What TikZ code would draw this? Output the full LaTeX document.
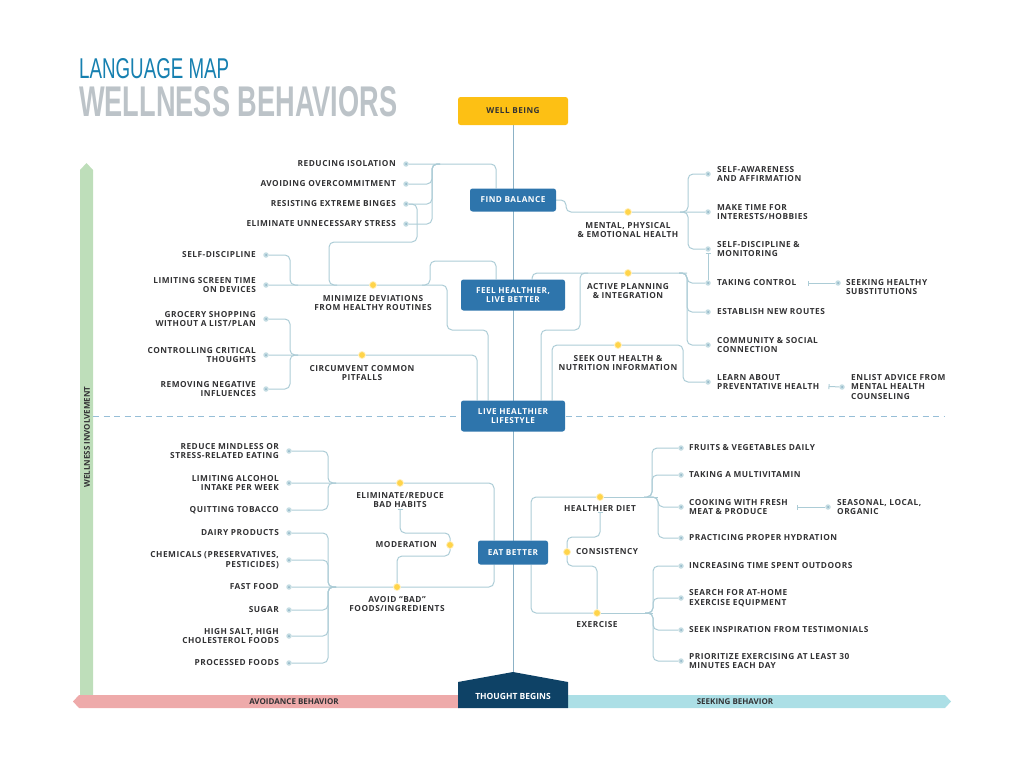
\documentclass[tikz,border=0pt]{standalone}
\usepackage{fontspec}
\setmainfont{Open Sans}
\newfontfamily\capfont{Open Sans}[LetterSpace=6]
\newfontfamily\bandfont{Open Sans}
\newfontfamily\headfont{Liberation Sans}
\usepackage{graphicx}
\usepackage{xcolor}
\usetikzlibrary{
  arrows.meta,
  positioning,
  backgrounds
}
\definecolor{hubblue}{RGB}{46, 117, 172}
\definecolor{gold}{RGB}{253, 192, 20}
\definecolor{navy}{RGB}{14, 66, 102}
\definecolor{ink}{RGB}{50, 50, 52}
\definecolor{linkc}{RGB}{172, 204, 214}
\definecolor{spinec}{RGB}{140, 178, 198}
\definecolor{dotgrey}{RGB}{196, 220, 226}
\definecolor{dotyellow}{RGB}{255, 212, 74}
\definecolor{pinkb}{RGB}{238, 170, 170}
\definecolor{cyanb}{RGB}{172, 223, 230}
\definecolor{greenb}{RGB}{190, 222, 186}
\definecolor{dashc}{RGB}{150, 190, 215}
\definecolor{titleblue}{RGB}{22, 128, 176}
\definecolor{titlegrey}{RGB}{188, 195, 200}

\begin{document}
\begin{tikzpicture}[
  x=1pt, y=-1pt,
  hub/.style  = {
    rectangle, fill=hubblue, rounded corners=2.5pt, text=white,
    align=center, inner sep=1pt,
    font=\capfont\bfseries\fontsize{8.2}{9.6}\selectfont
  },
  lbl/.style  = {text=ink, inner sep=1pt, font=\capfont\bfseries\fontsize{8.3}{9.6}\selectfont},
  lbll/.style = {lbl, align=right},
  lblr/.style = {lbl, align=left},
  lblc/.style = {lbl, align=center},
  band/.style = {inner sep=1pt, font=\bandfont\bfseries\fontsize{8}{9}\selectfont},
  gdot/.style = {
    circle, inner sep=0pt, minimum size=5.5pt, fill=dotgrey,
    path picture={\fill[spinec] (path picture bounding box.center) circle (1pt);}
  },
  ydot/.style = {circle, inner sep=0pt, minimum size=7pt, fill=dotyellow, draw=dotyellow!35, line width=0.8pt},
  link/.style = {draw=linkc, line width=1pt, rounded corners=5pt},
  tie/.style  = {link, {Bar[width=5pt, line width=1pt]}-},
  node distance = 6pt
]
\useasboundingbox (0,0) rectangle (1024,768);

% Titulo
\node[anchor=south west, inner sep=0, text=titleblue] (ttlA) at (79,79)
  {\resizebox{150pt}{20pt}{\headfont LANGUAGE MAP}};
\node[anchor=south west, inner sep=0, text=titlegrey] (ttlB) at (79,117)
  {\resizebox{318pt}{30pt}{\headfont\bfseries WELLNESS BEHAVIORS}};

% Eje central
\node[hub, fill=gold, text=ink, minimum width=110pt, minimum height=28pt] (wb) at (513,111) {WELL BEING};
\node[hub, minimum width=86pt,  minimum height=23pt] (fb) at (513,200) {FIND BALANCE};
\node[hub, minimum width=104pt, minimum height=31pt] (fh) at (513,295) {FEEL HEALTHIER,\\LIVE BETTER};
\node[hub, minimum width=104pt, minimum height=31pt] (lh) at (513,416) {LIVE HEALTHIER\\LIFESTYLE};
\node[hub, minimum width=70pt,  minimum height=24pt] (eb) at (513,552.5) {EAT BETTER};
\coordinate (tbTop) at (513,672);
\node[band, text=white, font=\bandfont\bfseries\fontsize{8.5}{9}\selectfont] (tb) at (513,696) {THOUGHT BEGINS};

% Bandas
\node[band, text=ink] (avL) at (294,701.5) {AVOIDANCE BEHAVIOR};
\node[band, text=ink] (skL) at (735,701.5) {SEEKING BEHAVIOR};
\node[band, text=ink, rotate=90] (wiL) at (87,437) {WELLNESS INVOLVEMENT};

% FIND BALANCE, izquierda
\node[gdot] (rIso) at (406,164) {};
\node[gdot] (aOve) at (406,184) {};
\node[gdot] (rBin) at (406,204) {};
\node[gdot] (eStr) at (406,224) {};
\node[lbll, left=of rIso] (rIsoL) {REDUCING ISOLATION};
\node[lbll, left=of aOve] (aOveL) {AVOIDING OVERCOMMITMENT};
\node[lbll, left=of rBin] (rBinL) {RESISTING EXTREME BINGES};
\node[lbll, left=of eStr] (eStrL) {ELIMINATE UNNECESSARY STRESS};

% Minimize deviations
\node[gdot] (sDis) at (266,255) {};
\node[gdot] (lScr) at (266,285) {};
\node[ydot] (mDev) at (373,285) {};
\node[lbll, left=of sDis] (sDisL) {SELF-DISCIPLINE};
\node[lbll, left=of lScr] (lScrL) {LIMITING SCREEN TIME\\ON DEVICES};
\node[lblc, below=5pt of mDev] (mDevL) {MINIMIZE DEVIATIONS\\FROM HEALTHY ROUTINES};

% Circumvent pitfalls
\node[gdot] (gSho) at (266,319) {};
\node[gdot] (cCri) at (266,355) {};
\node[gdot] (rNeg) at (266,389) {};
\node[ydot] (cPit) at (362,355) {};
\node[lbll, left=of gSho] (gShoL) {GROCERY SHOPPING\\WITHOUT A LIST/PLAN};
\node[lbll, left=of cCri] (cCriL) {CONTROLLING CRITICAL\\THOUGHTS};
\node[lbll, left=of rNeg] (rNegL) {REMOVING NEGATIVE\\INFLUENCES};
\node[lblc, below=5pt of cPit] (cPitL) {CIRCUMVENT COMMON\\PITFALLS};

% Mental, physical
\node[ydot] (mHea) at (628,212) {};
\node[gdot] (sAff) at (708,174) {};
\node[gdot] (mTim) at (708,212) {};
\node[gdot] (sMon) at (708,249) {};
\node[lblc, below=5pt of mHea] (mHeaL) {MENTAL, PHYSICAL\\\& EMOTIONAL HEALTH};
\node[lblr, right=5pt of sAff] (sAffL) {SELF-AWARENESS\\AND AFFIRMATION};
\node[lblr, right=5pt of mTim] (mTimL) {MAKE TIME FOR\\INTERESTS/HOBBIES};
\node[lblr, right=5pt of sMon] (sMonL) {SELF-DISCIPLINE \&\\MONITORING};

% Active planning
\node[ydot] (aPla) at (628,273) {};
\node[gdot] (tCon) at (708,283) {};
\node[gdot] (eRou) at (708,312) {};
\node[gdot] (cSoc) at (708,345) {};
\node[gdot] (sSub) at (838,283) {};
\node[lblc, below=5pt of aPla] (aPlaL) {ACTIVE PLANNING\\\& INTEGRATION};
\node[lblr, right=5pt of tCon] (tConL) {TAKING CONTROL};
\node[lblr, right=5pt of eRou] (eRouL) {ESTABLISH NEW ROUTES};
\node[lblr, right=5pt of cSoc] (cSocL) {COMMUNITY \& SOCIAL\\CONNECTION};
\node[lblr, anchor=north west] (sSubL) at ([xshift=4pt, yshift=5pt]sSub.east) {SEEKING HEALTHY\\SUBSTITUTIONS};

% Seek out information
\node[ydot] (sOut) at (618,345) {};
\node[gdot] (lPre) at (708,382) {};
\node[gdot] (eAdv) at (842,387) {};
\node[lblc, below=5pt of sOut] (sOutL) {SEEK OUT HEALTH \&\\NUTRITION INFORMATION};
\node[lblr, right=5pt of lPre] (lPreL) {LEARN ABOUT\\PREVENTATIVE HEALTH};
\node[lblr, right=5pt of eAdv] (eAdvL) {ENLIST ADVICE FROM\\MENTAL HEALTH\\COUNSELING};

% EAT BETTER, izquierda
\node[ydot] (eBad) at (400,483) {};
\node[gdot] (rMin) at (289,451) {};
\node[gdot] (lAlc) at (289,483) {};
\node[gdot] (qTob) at (289,510) {};
\node[lblc, below=4pt of eBad] (eBadL) {ELIMINATE/REDUCE\\BAD HABITS};
\node[lbll, left=of rMin] (rMinL) {REDUCE MINDLESS OR\\STRESS-RELATED EATING};
\node[lbll, left=of lAlc] (lAlcL) {LIMITING ALCOHOL\\INTAKE PER WEEK};
\node[lbll, left=of qTob] (qTobL) {QUITTING TOBACCO};

\node[ydot] (aBad) at (397,587) {};
\node[gdot] (dPro) at (289,533) {};
\node[gdot] (cPre) at (289,560) {};
\node[gdot] (fFoo) at (289,587) {};
\node[gdot] (sugr) at (289,610) {};
\node[gdot] (hSal) at (289,636) {};
\node[gdot] (pFoo) at (289,663) {};
\node[lblc, below=4pt of aBad] (aBadL) {AVOID “BAD”\\FOODS/INGREDIENTS};
\node[lbll, left=of dPro] (dProL) {DAIRY PRODUCTS};
\node[lbll, left=of cPre] (cPreL) {CHEMICALS (PRESERVATIVES,\\PESTICIDES)};
\node[lbll, left=of fFoo] (fFooL) {FAST FOOD};
\node[lbll, left=of sugr] (sugrL) {SUGAR};
\node[lbll, left=of hSal] (hSalL) {HIGH SALT, HIGH\\CHOLESTEROL FOODS};
\node[lbll, left=of pFoo] (pFooL) {PROCESSED FOODS};

\node[ydot] (mode) at (450,545) {};
\node[lbll, left=8pt of mode] (modeL) {MODERATION};

% EAT BETTER, derecha
\node[ydot] (hDie) at (600,497) {};
\node[gdot] (fVeg) at (681,448) {};
\node[gdot] (tMul) at (681,475) {};
\node[gdot] (cFre) at (681,507) {};
\node[gdot] (pHyd) at (681,538) {};
\node[gdot] (sLoc) at (828,507) {};
\node[lblc, below=3pt of hDie] (hDieL) {HEALTHIER DIET};
\node[lblr, right=4pt of fVeg] (fVegL) {FRUITS \& VEGETABLES DAILY};
\node[lblr, right=4pt of tMul] (tMulL) {TAKING A MULTIVITAMIN};
\node[lblr, right=4pt of cFre] (cFreL) {COOKING WITH FRESH\\MEAT \& PRODUCE};
\node[lblr, right=4pt of pHyd] (pHydL) {PRACTICING PROPER HYDRATION};
\node[lblr, right=5pt of sLoc] (sLocL) {SEASONAL, LOCAL,\\ORGANIC};

\node[ydot] (cons) at (567,552) {};
\node[lblr, right=4pt of cons] (consL) {CONSISTENCY};

\node[ydot] (exer) at (597,613) {};
\node[gdot] (iOut) at (681,566) {};
\node[gdot] (sHom) at (681,598) {};
\node[gdot] (sIns) at (681,630) {};
\node[gdot] (pExe) at (681,661) {};
\node[lblc, below=3pt of exer] (exerL) {EXERCISE};
\node[lblr, right=4pt of iOut] (iOutL) {INCREASING TIME SPENT OUTDOORS};
\node[lblr, right=4pt of sHom] (sHomL) {SEARCH FOR AT-HOME\\EXERCISE EQUIPMENT};
\node[lblr, right=4pt of sIns] (sInsL) {SEEK INSPIRATION FROM TESTIMONIALS};
\node[lblr, right=4pt of pExe] (pExeL) {PRIORITIZE EXERCISING AT LEAST 30\\MINUTES EACH DAY};

% Juntas
\coordinate (fbJ) at (432,164);
\coordinate (mdJ) at (290,285);
\coordinate (mdK) at (329,285);
\coordinate (fhJ) at (430,285);
\coordinate (cpJ) at (290,355);
\coordinate (mhJ) at (688,212);
\coordinate (apJ) at (687,273);
\coordinate (apK) at (580,273);
\coordinate (ebJ) at (328,483);
\coordinate (abJ) at (328,587);
\coordinate (hdJ) at (652,497);
\coordinate (hdK) at (658,497);
\coordinate (exJ) at (653,613);

\begin{scope}[on background layer]
% fondos
\fill[greenb] (80,695) -- (80,170) -- (86.5,163) -- (93,170) -- (93,695) -- cycle;
\draw[dashc, line width=0.9pt, dash pattern=on 6pt off 4.5pt] (93,416) -- (945,416);
\fill[pinkb] (73,701.5) -- (79,695) -- (459,695) -- (459,708) -- (79,708) -- cycle;
\fill[cyanb] (568,695) -- (945,695) -- (951,701.5) -- (945,708) -- (568,708) -- cycle;
\fill[navy] (458,708) -- (458,682) -- (tbTop) -- (568,682) -- (568,708) -- cycle;
\draw[spinec, line width=1pt] (wb.south) -- (tbTop);

% lado superior izquierdo
\draw[link] (rIso) -| ([xshift=-17pt]fb.north);
\foreach \n in {aOve, rBin, eStr}
  \draw[link] (\n) -| (fbJ) -- ++(8,0);
\draw[link] (rBin) -| (417,242) -| (mdK) -- ++(8,0);
\draw[link] (sDis) -| (mdJ) -- ++(8,0);
\draw[link] (lScr) -- (mDev) -| (447,330) -| ([xshift=-25pt]lh.north);
\draw[link] ([xshift=-8pt]fhJ) -- (fhJ) |- (496,261) -- ([xshift=-17pt]fh.north);
\foreach \n in {gSho, rNeg}
  \draw[link] (\n) -| (cpJ) -- ++(8,0);
\draw[link] (cCri) -- (cPit) -| ([xshift=-36pt]lh.north);

% lado superior derecho
\draw[link] (fb.east) -| (566,212) -- (mHea) -- (mTim);
\foreach \n in {sAff, sMon}
  \draw[link] (\n) -| (mhJ) -- ++(-8,0);
\draw[tie] ([yshift=-1pt]sMon.south) -- (tCon);
\draw[link] ([xshift=19pt]fh.north) |- (aPla) -- (apJ);
\foreach \n in {tCon, eRou, cSoc}
  \draw[link] (\n) -| (apJ) -- ++(-8,0);
\draw[link] ([xshift=28pt]lh.north) |- (580,330) -- (apK) -- ++(8,0);
\draw[link] ([xshift=39pt]lh.north) |- (sOut) -| ([xshift=-25pt]lPre.center) -- (lPre);
\draw[tie] ([xshift=10pt]tConL.east) -- (sSub);
\draw[tie] ([xshift=8pt, yshift=-4.5pt]lPreL.east) -- (eAdv);

% lado inferior izquierdo
\draw[link] (lAlc) -- (eBad) -| ([xshift=-19pt]eb.north);
\foreach \n in {rMin, qTob}
  \draw[link] (\n) -| (ebJ) -- ++(8,0);
\draw[link] (fFoo) -- (aBad) -| ([xshift=-19pt]eb.south);
\foreach \n in {dPro, cPre, sugr, hSal, pFoo}
  \draw[link] (\n) -| (abJ) -- ++(8,0);
\draw[tie] (eBadL.south) |- (450,533) |- (397,556) -- (aBad);

% lado inferior derecho
\draw[link] (hDie) -| ([xshift=18pt]eb.north);
\draw[link] (exer) -| ([xshift=18pt]eb.south);
\draw[tie] (hDieL.south) |- (567,537) |- (597,566) -- (exer);
\draw[link] (hDie) -- (hdK);
\foreach \n in {fVeg, tMul}
  \draw[link] (\n) -| (hdJ) -- ++(-8,0);
\foreach \n in {cFre, pHyd}
  \draw[link] (\n) -| (hdK) -- ++(-8,0);
\draw[link] (exer) -- (exJ);
\foreach \n in {iOut, sHom, sIns, pExe}
  \draw[link] (\n) -| (exJ) -- ++(-8,0);
\draw[tie] ([xshift=8pt]cFreL.east) -- (sLoc);
\end{scope}

\end{tikzpicture}
\end{document}
